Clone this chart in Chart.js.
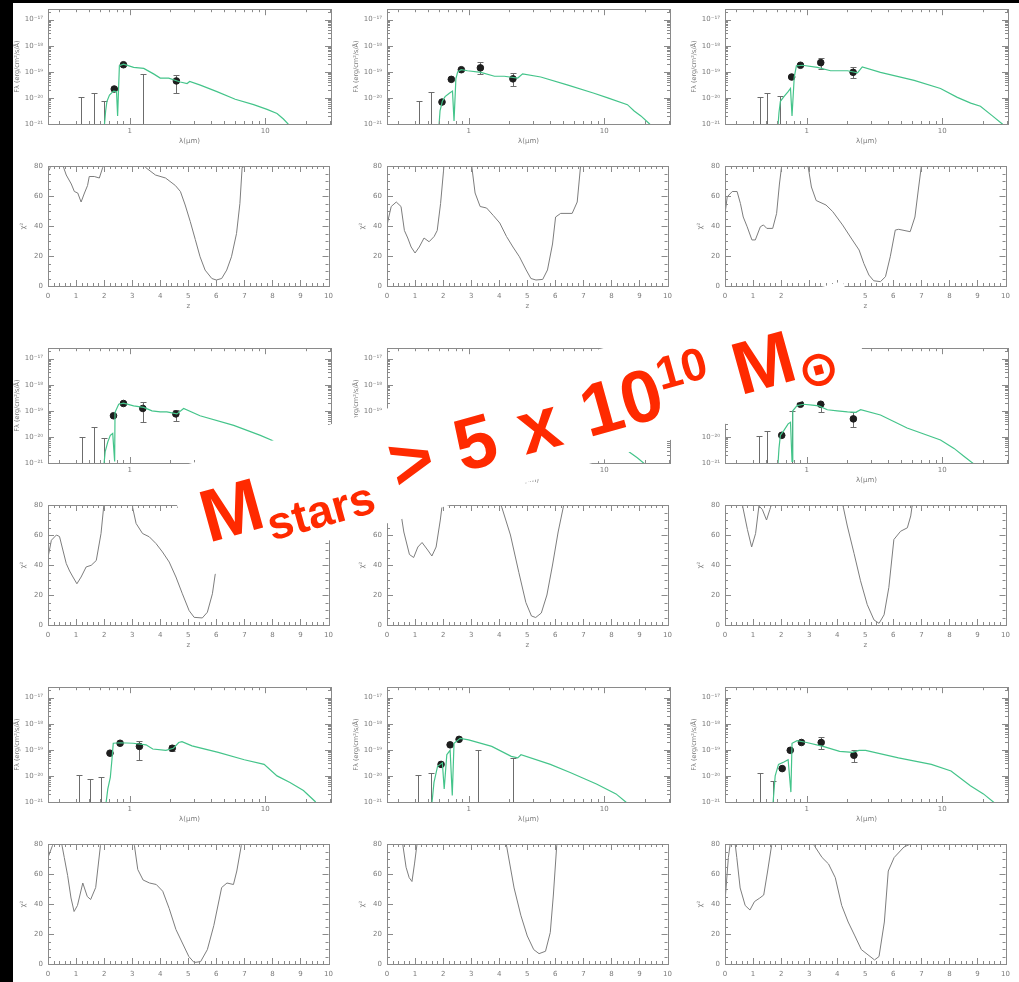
<!DOCTYPE html>
<html lang="en">
<head>
<meta charset="UTF-8">
<title>SED fits and chi2(z)</title>
<script src="https://cdn.jsdelivr.net/npm/chart.js"></script>
<style>
  html, body { margin: 0; padding: 0; }
  body { width: 1019px; height: 982px; background: #fff; position: relative; overflow: hidden; }
  canvas.p { position: absolute; filter: blur(0.35px); }
  #topBar { position: absolute; left: 0; top: 0; width: 1019px; height: 3px; background: #000; z-index: 5; }
  #leftBar { position: absolute; left: 0; top: 0; width: 13px; height: 982px; background: #000; z-index: 5; }
  /* white backing behind the label, slightly skewed box */
  #patch {
    position: absolute; left: 0; top: 0; width: 1019px; height: 982px; background: #fff; z-index: 3;
    clip-path: polygon(167px 470px, 843px 281px, 871px 381px, 198px 579px);
  }
  #label {
    position: absolute; left: 192px; top: 483px; white-space: nowrap; word-spacing: 3.7px;
    font: bold 74px/74px "Liberation Sans", Arial, sans-serif; color: #ff2a00;
    transform-origin: 0 0; transform: rotate(-15.5deg); z-index: 4;
  }
  #label .sub { font-size: 46px; vertical-align: -15px; line-height: 0; }
  #label .sup { font-size: 46px; vertical-align: 26px; line-height: 0; }
  #label .sun { font-family: "DejaVu Sans", sans-serif; font-size: 49px; vertical-align: -12px; line-height: 0; }
</style>
</head>
<body>
<div id="sheet"></div>
<div id="patch"></div>
<div id="label">M<span class="sub">stars</span> &gt; 5 x 10<span class="sup">10</span> M<span class="sun">&#x2299;</span></div>
<div id="topBar"></div>
<div id="leftBar"></div>

<script>
// ---- SED panels: model [lambda(um), log10 F], points [lambda, logF, logTop, logBottom], upper limits [lambda, logF]
const sedModel1 = [[0.645,-21.3],[0.665,-20.5],[0.68,-20.13],[0.71,-19.89],[0.76,-19.74],[0.80,-19.76],[0.815,-20.69],[0.84,-18.77],[0.90,-18.71],[1.07,-18.83],[1.27,-18.87],[1.5,-19.08],[1.68,-19.24],[1.94,-19.24],[2.36,-19.39],[2.65,-19.45],[2.77,-19.37],[3.32,-19.51],[4.4,-19.76],[6.0,-20.05],[8.2,-20.26],[10.3,-20.44],[12.2,-20.6],[13.6,-20.81],[15.1,-21.06]];
const sedPts1 = [[0.77,-19.66],[0.90,-18.73],[2.21,-19.35,-19.12,-19.82]];
const sedLim1 = [[0.44,-19.97],[0.55,-19.8],[0.65,-20.11],[1.25,-19.08]];

const sedModel2 = [[0.60,-21.3],[0.615,-20.5],[0.64,-20.13],[0.67,-19.95],[0.72,-19.82],[0.76,-19.74],[0.78,-20.88],[0.805,-19.27],[0.83,-19.0],[0.88,-18.92],[0.98,-18.96],[1.23,-19.02],[1.55,-19.17],[1.83,-19.17],[2.3,-19.24],[2.5,-19.08],[3.4,-19.2],[5.4,-19.51],[8.4,-19.82],[10.6,-20.0],[14.8,-20.26],[16.6,-20.5],[18.6,-20.69],[21.4,-20.98],[22.5,-21.1]];
const sedPts2 = [[0.636,-20.16],[0.745,-19.29],[0.883,-18.92],[1.22,-18.85,-18.62,-19.08],[2.12,-19.27,-19.04,-19.54]];
const sedLim2 = [[0.43,-20.11],[0.53,-19.76]];

const sedModel3 = [[0.61,-21.3],[0.625,-20.57],[0.64,-20.13],[0.68,-19.95],[0.73,-19.76],[0.76,-19.64],[0.78,-20.69],[0.81,-19.2],[0.84,-18.77],[0.93,-18.75],[1.2,-18.83],[1.5,-18.96],[2.0,-18.96],[2.37,-19.04],[2.57,-18.81],[3.5,-19.02],[6.2,-19.33],[9.7,-19.64],[12.9,-19.98],[16.2,-20.2],[19.1,-20.32],[23.4,-20.69],[27.7,-21.0],[29,-21.1]];
const sedPts3 = [[0.775,-19.2],[0.90,-18.75],[1.27,-18.65,-18.46,-18.9],[2.2,-19.02,-18.83,-19.24]];
const sedLim3 = [[0.45,-19.97],[0.51,-19.8],[0.64,-19.92]];

const sedModel4 = [[0.64,-21.3],[0.66,-20.56],[0.69,-20.19],[0.72,-19.94],[0.75,-19.87],[0.775,-20.94],[0.78,-19.06],[0.83,-18.75],[0.90,-18.71],[1.07,-18.81],[1.27,-18.87],[1.46,-19.0],[1.68,-19.04],[1.88,-19.04],[2.23,-19.12],[2.5,-18.91],[3.3,-19.19],[5.85,-19.56],[9.2,-19.94],[11.5,-20.16],[14.5,-20.5],[18,-20.9],[20,-21.1]];
const sedPts4 = [[0.76,-19.19],[0.90,-18.72],[1.25,-18.91,-18.66,-19.44],[2.19,-19.12,-18.96,-19.38]];
const sedLim4 = [[0.445,-20.0],[0.55,-19.61],[0.65,-20.06]];

const sedModel5 = [[0.6,-21.3],[0.62,-20.4],[0.66,-20.0],[0.72,-19.8],[0.76,-19.7],[0.78,-20.8],[0.81,-19.1],[0.88,-18.85],[1.0,-18.9],[1.3,-19.0],[1.8,-19.15],[2.3,-19.25],[2.5,-19.05],[3.5,-19.25],[6,-19.65],[10,-20.05],[13,-20.35],[15,-20.55],[17.5,-20.8],[20,-21.05]];
const sedPts5 = [[0.65,-20.0],[0.76,-19.3],[0.88,-18.9],[1.25,-18.9,-18.7,-19.1],[2.2,-19.25,-19.05,-19.5]];
const sedLim5 = [[0.44,-20.0],[0.53,-19.8]];

const sedModel6 = [[0.61,-21.3],[0.625,-20.44],[0.64,-19.94],[0.68,-19.75],[0.73,-19.5],[0.76,-19.44],[0.78,-20.94],[0.79,-19.0],[0.85,-18.8],[0.95,-18.75],[1.1,-18.78],[1.23,-18.81],[1.42,-18.96],[1.68,-19.0],[2.0,-19.04],[2.3,-19.06],[2.5,-18.96],[3.5,-19.16],[5.5,-19.66],[9.7,-20.12],[12.2,-20.44],[14.5,-20.75],[17.1,-21.04],[18,-21.1]];
const sedPts6 = [[0.655,-19.94],[0.90,-18.75],[1.27,-18.75,-18.75,-19.06],[2.21,-19.31,-19.06,-19.62]];
const sedLim6 = [[0.445,-19.96],[0.51,-19.79],[0.775,-19.0]];

const sedModel7 = [[0.66,-21.3],[0.69,-20.5],[0.72,-20.06],[0.74,-19.38],[0.757,-18.75],[0.85,-18.73],[1.06,-18.75],[1.32,-18.81],[1.48,-18.97],[1.85,-19.02],[2.1,-18.94],[2.3,-18.72],[2.43,-18.69],[2.88,-18.85],[4.5,-19.1],[7.0,-19.38],[9.8,-19.56],[12.2,-20.0],[15.2,-20.25],[19.1,-20.56],[23.3,-20.98],[24,-21.1]];
const sedPts7 = [[0.716,-19.13],[0.85,-18.75],[1.18,-18.87,-18.65,-19.38],[2.06,-18.94,-18.81,-19.06]];
const sedLim7 = [[0.42,-19.96],[0.51,-20.1],[0.61,-20.03]];

const sedModel8 = [[0.53,-21.3],[0.555,-20.25],[0.59,-19.63],[0.64,-19.5],[0.66,-20.5],[0.69,-19.19],[0.73,-19.02],[0.757,-20.75],[0.78,-18.75],[0.865,-18.56],[1.0,-18.62],[1.48,-18.87],[2.06,-19.25],[2.3,-19.31],[2.43,-19.19],[4.0,-19.56],[5.6,-19.87],[8.75,-20.31],[12.2,-20.69],[14.4,-21.0],[15,-21.1]];
const sedPts8 = [[0.626,-19.56],[0.73,-18.81],[0.85,-18.6]];
const sedLim8 = [[0.425,-19.96],[0.53,-19.87],[1.18,-19.02],[2.13,-19.31]];

const sedModel9 = [[0.56,-21.3],[0.586,-20.0],[0.62,-19.56],[0.68,-19.47],[0.73,-19.38],[0.765,-20.62],[0.78,-18.75],[0.85,-18.65],[1.0,-18.72],[1.32,-18.87],[1.75,-19.06],[2.18,-19.1],[2.43,-19.02],[2.72,-19.02],[4.75,-19.31],[8.3,-19.56],[11.6,-19.81],[16.1,-20.38],[20.1,-20.69],[23.8,-21.0],[25,-21.1]];
const sedPts9 = [[0.66,-19.72],[0.757,-19.02],[0.915,-18.72],[1.28,-18.72,-18.5,-18.97],[2.23,-19.21,-19.02,-19.47]];
const sedLim9 = [[0.45,-19.87],[0.56,-20.19]];

// ---- chi2 vs z curves [z, chi2]
const chi1 = [[0,76],[0.06,78],[0.12,82],[0.5,82],[0.65,74],[0.83,68],[0.94,63],[1.06,62],[1.18,56],[1.3,62],[1.41,67],[1.47,73],[1.65,73],[1.83,72],[1.95,79],[2.0,84],[3.4,84],[3.48,79],[3.83,74],[4.19,72],[4.54,67],[4.72,63],[4.89,54],[5.07,43],[5.25,31],[5.42,19.5],[5.6,10.6],[5.84,5],[6.0,4],[6.19,5],[6.37,10.6],[6.54,19.5],[6.72,35],[6.84,55],[6.92,79],[6.95,84]];
const chi2 = [[0,40],[0.04,44],[0.15,53],[0.33,56],[0.5,53],[0.62,37],[0.74,32],[0.86,26],[1.0,22],[1.15,26],[1.32,32],[1.5,29.5],[1.68,33],[1.79,37],[1.91,55],[2.03,80],[2.06,85],[2.98,85],[3.02,80],[3.14,62],[3.32,53],[3.55,52],[3.79,47],[4.02,42],[4.26,33],[4.49,26],[4.72,19.5],[4.96,10.7],[5.13,5],[5.31,4],[5.55,4.4],[5.72,10.7],[5.9,28],[6.01,46],[6.19,48.4],[6.6,48.4],[6.78,56],[6.9,80],[6.93,85]];
const chi3 = [[0,48],[0.08,59.5],[0.26,63],[0.43,63],[0.55,55],[0.65,46],[0.79,39.5],[0.96,30.7],[1.08,30.7],[1.26,39.5],[1.37,40.7],[1.49,38.4],[1.7,38.4],[1.84,48.4],[1.94,68],[2.02,80],[2.05,85],[2.93,85],[2.96,80],[3.08,66],[3.25,57],[3.6,54],[3.84,49.6],[4.19,40.7],[4.54,30.7],[4.78,24],[4.95,15],[5.13,7.3],[5.3,3.5],[5.54,2.9],[5.72,6.2],[5.89,19.5],[6.07,37.3],[6.19,37.8],[6.6,36.2],[6.77,46],[6.89,64],[7.0,80],[7.03,85]];
const chi4 = [[0,45],[0.12,56.5],[0.3,60],[0.41,59],[0.53,50],[0.65,41],[0.77,36],[0.89,32],[1.03,27.5],[1.18,32],[1.36,38.7],[1.54,39.8],[1.72,43],[1.89,61],[1.98,78],[2.01,85],[2.99,85],[3.02,78],[3.14,67.7],[3.37,61],[3.61,58.8],[3.85,54.3],[4.08,48.7],[4.32,42],[4.56,32],[4.79,20.8],[5.03,9.6],[5.21,5.1],[5.5,4.7],[5.68,8.5],[5.86,20.8],[5.98,36.4],[6.1,45],[6.5,47],[6.75,58],[6.9,80],[6.93,85]];
const chi5 = [[0.3,85],[0.45,80],[0.6,62],[0.8,47],[0.95,45],[1.1,52],[1.25,55],[1.45,50],[1.6,46],[1.75,52],[1.9,70],[2.0,85],[3.95,85],[4.1,78],[4.4,60],[4.7,35],[4.95,15],[5.15,6],[5.3,5],[5.5,8],[5.7,20],[5.9,40],[6.1,62],[6.3,80],[6.4,85]];
const chi6 = [[0.6,85],[0.62,80],[0.8,63.6],[0.95,52],[1.09,61],[1.21,79.5],[1.33,77],[1.48,70],[1.6,77],[1.65,80],[1.68,85],[4.17,85],[4.2,80],[4.36,66],[4.6,47.7],[4.83,29.5],[5.07,13.6],[5.31,3.4],[5.49,1.1],[5.67,6.8],[5.84,25],[6.02,57],[6.26,62.5],[6.5,64.8],[6.62,72.7],[6.67,79.5],[6.7,85]];
const chi7 = [[0,71],[0.16,79],[0.23,82],[0.47,82],[0.58,71],[0.7,59],[0.82,44],[0.93,35],[1.05,39],[1.24,54],[1.4,45],[1.52,43],[1.7,51],[1.87,79],[1.9,85],[3.05,85],[3.08,79],[3.2,63],[3.39,56],[3.62,54],[3.86,53],[4.09,48.5],[4.32,37],[4.56,23],[4.79,14],[5.02,5],[5.21,1],[5.44,1.6],[5.68,9.6],[5.91,25.6],[6.19,51],[6.38,54],[6.61,53],[6.73,62],[6.89,79],[6.92,85]];
const chi8 = [[0.53,85],[0.56,80],[0.68,64.5],[0.79,57.6],[0.89,55],[0.98,66.7],[1.07,80],[1.1,85],[4.22,85],[4.25,80],[4.53,50.7],[4.77,32.5],[5.0,18.7],[5.23,9.6],[5.42,6.9],[5.65,8.5],[5.82,21],[5.93,46],[6.05,79],[6.08,85]];
const chi9 = [[0,41.6],[0.12,71],[0.2,82],[0.35,82],[0.42,71],[0.54,50.7],[0.72,39],[0.89,36],[1.05,41.6],[1.24,44],[1.38,46],[1.52,62],[1.66,79],[1.7,85],[3.15,85],[3.18,79],[3.46,71],[3.69,66.7],[3.93,57.6],[4.16,39],[4.39,28],[4.63,18.7],[4.86,9.6],[5.33,2.7],[5.49,5],[5.68,28],[5.82,62],[6.03,71],[6.38,78],[6.61,80],[6.65,85]];

// tick values
const sedXMajor = [1, 10];
const sedXMinor = [0.3,0.4,0.5,0.6,0.7,0.8,0.9,2,3,4,5,6,7,8,9,20,30];
const sedYMajor = [-21, -20, -19, -18, -17];
const chiXMajor = [0,1,2,3,4,5,6,7,8,9,10];
const chiYMajor = [0, 20, 40, 60, 80];

const panels = [
  [sedModel1, sedPts1, sedLim1, chi1], [sedModel2, sedPts2, sedLim2, chi2], [sedModel3, sedPts3, sedLim3, chi3],
  [sedModel4, sedPts4, sedLim4, chi4], [sedModel5, sedPts5, sedLim5, chi5], [sedModel6, sedPts6, sedLim6, chi6],
  [sedModel7, sedPts7, sedLim7, chi7], [sedModel8, sedPts8, sedLim8, chi8], [sedModel9, sedPts9, sedLim9, chi9]
];

const colX = [0, 339, 677];
const rowY = [0, 339, 678];
const GREEN = '#44c48a';
const AXIS = '#8a8a8a';
const TXT = '#7a7a7a';
const tickFont = { family: 'DejaVu Sans', size: 7 };

const SUP = { '-': '\u207B', '0': '\u2070', '1': '\u00B9', '2': '\u00B2', '3': '\u00B3', '4': '\u2074', '5': '\u2075', '6': '\u2076', '7': '\u2077', '8': '\u2078', '9': '\u2079' };
const sup = s => String(s).split('').map(c => SUP[c]).join('');

function addCanvas(left, top, w, h) {
  const c = document.createElement('canvas');
  c.width = w; c.height = h; c.className = 'p';
  c.style.left = left + 'px'; c.style.top = top + 'px';
  document.getElementById('sheet').appendChild(c);
  return c;
}

// box around the plot with inward ticks on all four sides
function framePlugin(xMaj, xMin, yMaj, yMin) {
  return {
    id: 'frame',
    afterDatasetsDraw(chart) {
      const { ctx, chartArea: a, scales: { x, y } } = chart;
      ctx.save();
      ctx.strokeStyle = AXIS; ctx.lineWidth = 1;
      ctx.strokeRect(Math.round(a.left) + 0.5, Math.round(a.top) + 0.5, Math.round(a.right - a.left), Math.round(a.bottom - a.top));
      ctx.beginPath();
      const xt = (vals, len) => vals.forEach(v => {
        const px = Math.round(x.getPixelForValue(v)) + 0.5;
        ctx.moveTo(px, a.bottom); ctx.lineTo(px, a.bottom - len);
        ctx.moveTo(px, a.top); ctx.lineTo(px, a.top + len);
      });
      const yt = (vals, len) => vals.forEach(v => {
        const py = Math.round(y.getPixelForValue(v)) + 0.5;
        ctx.moveTo(a.left, py); ctx.lineTo(a.left + len, py);
        ctx.moveTo(a.right, py); ctx.lineTo(a.right - len, py);
      });
      xt(xMaj, 6); xt(xMin, 3); yt(yMaj, 6); yt(yMin, 3);
      ctx.stroke();
      ctx.restore();
    }
  };
}

// error bars and upper limits, drawn under the points
function errPlugin(pts, lims) {
  return {
    id: 'errs',
    beforeDatasetsDraw(chart) {
      const { ctx, chartArea: a, scales: { x, y } } = chart;
      ctx.save();
      ctx.strokeStyle = '#6c6c6c'; ctx.lineWidth = 1;
      ctx.beginPath();
      lims.forEach(([l, f]) => {
        const px = Math.round(x.getPixelForValue(l)) + 0.5;
        const py = Math.round(y.getPixelForValue(10 ** f)) + 0.5;
        ctx.moveTo(px, a.bottom); ctx.lineTo(px, py);
        ctx.moveTo(px - 3, py); ctx.lineTo(px + 3, py);
      });
      pts.forEach(p => {
        if (p.length < 4) return;
        const px = Math.round(x.getPixelForValue(p[0])) + 0.5;
        const top = Math.round(y.getPixelForValue(10 ** p[2])) + 0.5;
        const bot = Math.round(y.getPixelForValue(10 ** p[3])) + 0.5;
        ctx.moveTo(px, top); ctx.lineTo(px, bot);
        ctx.moveTo(px - 3, top); ctx.lineTo(px + 3, top);
        ctx.moveTo(px - 3, bot); ctx.lineTo(px + 3, bot);
      });
      ctx.stroke();
      ctx.restore();
    }
  };
}

function sedChart(canvas, model, pts, lims) {
  const yMinor = [];
  sedYMajor.forEach(d => { for (let k = 2; k <= 9; k++) if (d < -17 || k <= 2) yMinor.push(k * 10 ** d); });
  return new Chart(canvas, {
    type: 'scatter',
    data: {
      datasets: [
        { data: model.map(p => ({ x: p[0], y: 10 ** p[1] })), showLine: true, borderColor: GREEN, borderWidth: 1.2, pointRadius: 0 },
        { data: pts.map(p => ({ x: p[0], y: 10 ** p[1] })), pointRadius: 3.3, pointBackgroundColor: '#1e1e1e', pointBorderColor: '#1e1e1e' }
      ]
    },
    options: {
      responsive: false, animation: false,
      layout: { padding: { top: 5, right: 8, left: 0, bottom: 0 } },
      plugins: { legend: { display: false }, tooltip: { enabled: false } },
      scales: {
        x: {
          type: 'logarithmic', min: 0.25, max: 30.5,
          afterBuildTicks: s => { s.ticks = sedXMajor.map(v => ({ value: v })); },
          afterFit: s => { s.height = 26; },
          grid: { display: false, drawTicks: false }, border: { display: false },
          ticks: { callback: v => String(v), font: tickFont, color: TXT, padding: 3, maxRotation: 0, autoSkip: false },
          title: { display: true, text: '\u03BB(\u00B5m)', font: tickFont, color: TXT, padding: { top: 0, bottom: 5 } }
        },
        y: {
          type: 'logarithmic', min: 1e-21, max: 2.5e-17,
          afterBuildTicks: s => { s.ticks = sedYMajor.map(d => ({ value: 10 ** d })); },
          afterFit: s => { s.width = 35; },
          grid: { display: false, drawTicks: false }, border: { display: false },
          ticks: { callback: v => '10' + sup(Math.round(Math.log10(v))), font: tickFont, color: TXT, padding: 5 },
          title: { display: true, text: 'F\u03BB (erg/cm\u00B2/s/\u00C5)', font: { family: 'DejaVu Sans', size: 6.5 }, color: TXT, padding: { top: 0, bottom: 0 } }
        }
      }
    },
    plugins: [errPlugin(pts, lims), framePlugin(sedXMajor, sedXMinor, sedYMajor.map(d => 10 ** d), yMinor)]
  });
}

function chiChart(canvas, curve) {
  const xMinor = [], yMinor = [];
  for (let i = 0; i < 50; i++) if (i % 5) xMinor.push(i / 5);
  for (let v = 5; v < 80; v += 5) if (v % 20) yMinor.push(v);
  return new Chart(canvas, {
    type: 'scatter',
    data: {
      datasets: [
        { data: curve.map(p => ({ x: p[0], y: p[1] })), showLine: true, borderColor: '#7d7d7d', borderWidth: 1, pointRadius: 0 }
      ]
    },
    options: {
      responsive: false, animation: false,
      layout: { padding: { top: 16, right: 8, left: 0, bottom: 0 } },
      plugins: { legend: { display: false }, tooltip: { enabled: false } },
      scales: {
        x: {
          type: 'linear', min: 0, max: 10,
          afterBuildTicks: s => { s.ticks = chiXMajor.map(v => ({ value: v })); },
          afterFit: s => { s.height = 34; },
          grid: { display: false, drawTicks: false }, border: { display: false },
          ticks: { font: tickFont, color: TXT, padding: 6, maxRotation: 0, autoSkip: false },
          title: { display: true, text: 'z', font: tickFont, color: TXT, padding: { top: 0, bottom: 10 } }
        },
        y: {
          type: 'linear', min: 0, max: 80,
          afterBuildTicks: s => { s.ticks = chiYMajor.map(v => ({ value: v })); },
          afterFit: s => { s.width = 35; },
          grid: { display: false, drawTicks: false }, border: { display: false },
          ticks: { font: tickFont, color: TXT, padding: 5 },
          title: { display: true, text: '\u03C7\u00B2', font: tickFont, color: TXT, padding: { top: 6, bottom: 0 } }
        }
      }
    },
    plugins: [framePlugin(chiXMajor, xMinor, chiYMajor, yMinor)]
  });
}

panels.forEach((p, i) => {
  const r = Math.floor(i / 3), c = i % 3;
  const left = 13 + colX[c];
  sedChart(addCanvas(left, rowY[r], 326, 150), p[0], p[1], p[2]);
  chiChart(addCanvas(left, rowY[r] + 150, 326, 170), p[3]);
});
</script>
</body>
</html>
